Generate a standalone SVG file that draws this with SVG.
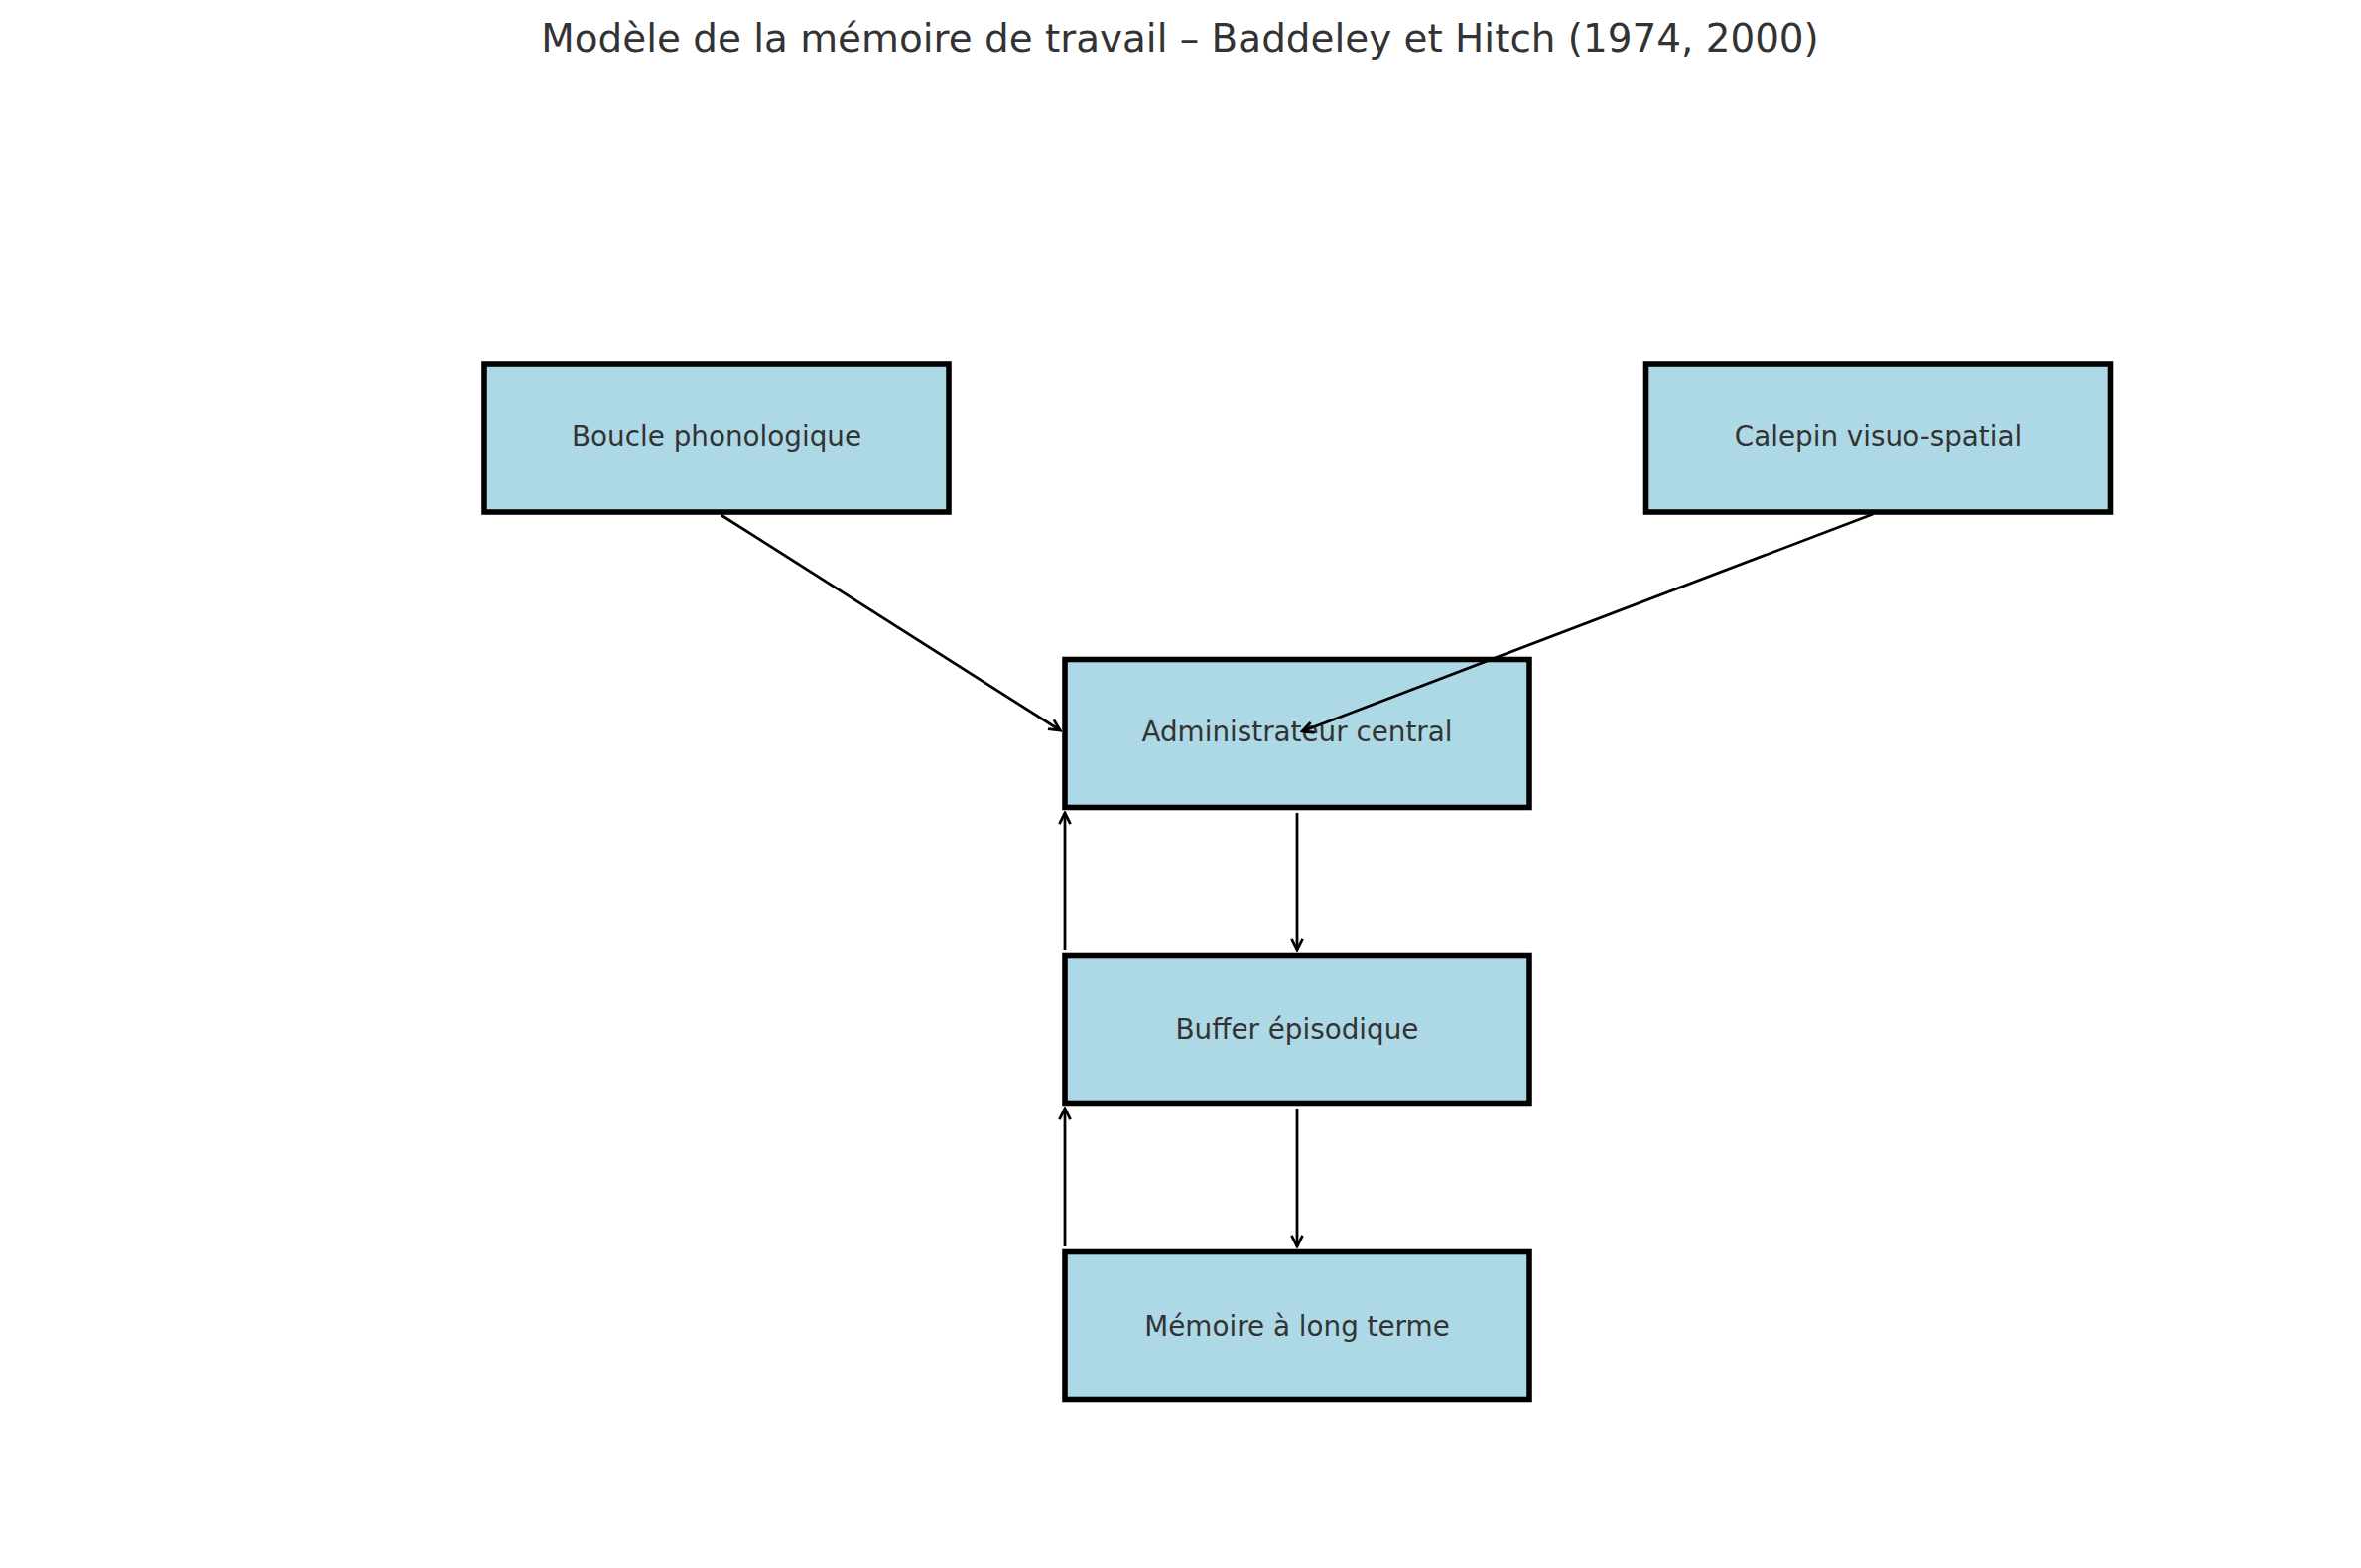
<svg xmlns="http://www.w3.org/2000/svg" width="2379" height="1580" viewBox="0 0 2379 1580">
<style>
.box{fill:#ADD8E6;stroke:#000;stroke-width:5.56}
.lbl{font-family:"DejaVu Sans","Liberation Sans",sans-serif;font-size:27.8px;fill:#333333;text-anchor:middle}
.title{font-family:"DejaVu Sans","Liberation Sans",sans-serif;font-size:38.9px;fill:#333333;text-anchor:middle}
.arr{stroke:#000;stroke-width:2.78;fill:none;marker-end:url(#head)}
</style>
<defs>
<marker id="head" markerUnits="userSpaceOnUse" viewBox="-14 -8 16 16" refX="0" refY="0" markerWidth="16" markerHeight="16" orient="auto">
<path d="M-11.1,-5.56 L0,0 L-11.1,5.56" fill="none" stroke="#000" stroke-width="2.78"/>
</marker>
</defs>
<rect width="2379" height="1580" fill="#fff"/>
<text class="title" x="1189" y="52">Modèle de la mémoire de travail – Baddeley et Hitch (1974, 2000)</text>
<g id="boucle">
<rect class="box" x="488" y="367" width="468" height="149"/>
<text class="lbl" x="722" y="449">Boucle phonologique</text>
</g>
<g id="calepin">
<rect class="box" x="1658.5" y="367" width="468" height="149"/>
<text class="lbl" x="1892.5" y="449">Calepin visuo-spatial</text>
</g>
<g id="admin">
<rect class="box" x="1073" y="664.5" width="468" height="149"/>
<text class="lbl" x="1307" y="746.7">Administrateur central</text>
</g>
<g id="buffer">
<rect class="box" x="1073" y="962.5" width="468" height="149"/>
<text class="lbl" x="1307" y="1047">Buffer épisodique</text>
</g>
<g id="memoire">
<rect class="box" x="1073" y="1261.5" width="468" height="149"/>
<text class="lbl" x="1307" y="1345.5">Mémoire à long terme</text>
</g>
<g id="connectors">
<line class="arr" x1="726.7" y1="519" x2="1068.3" y2="736"/>
<line class="arr" x1="1887.3" y1="518" x2="1312.2" y2="737"/>
<line class="arr" x1="1307" y1="819" x2="1307" y2="957"/>
<line class="arr" x1="1073" y1="957" x2="1073" y2="819"/>
<line class="arr" x1="1307" y1="1117" x2="1307" y2="1256"/>
<line class="arr" x1="1073" y1="1256" x2="1073" y2="1117"/>
</g>
</svg>
